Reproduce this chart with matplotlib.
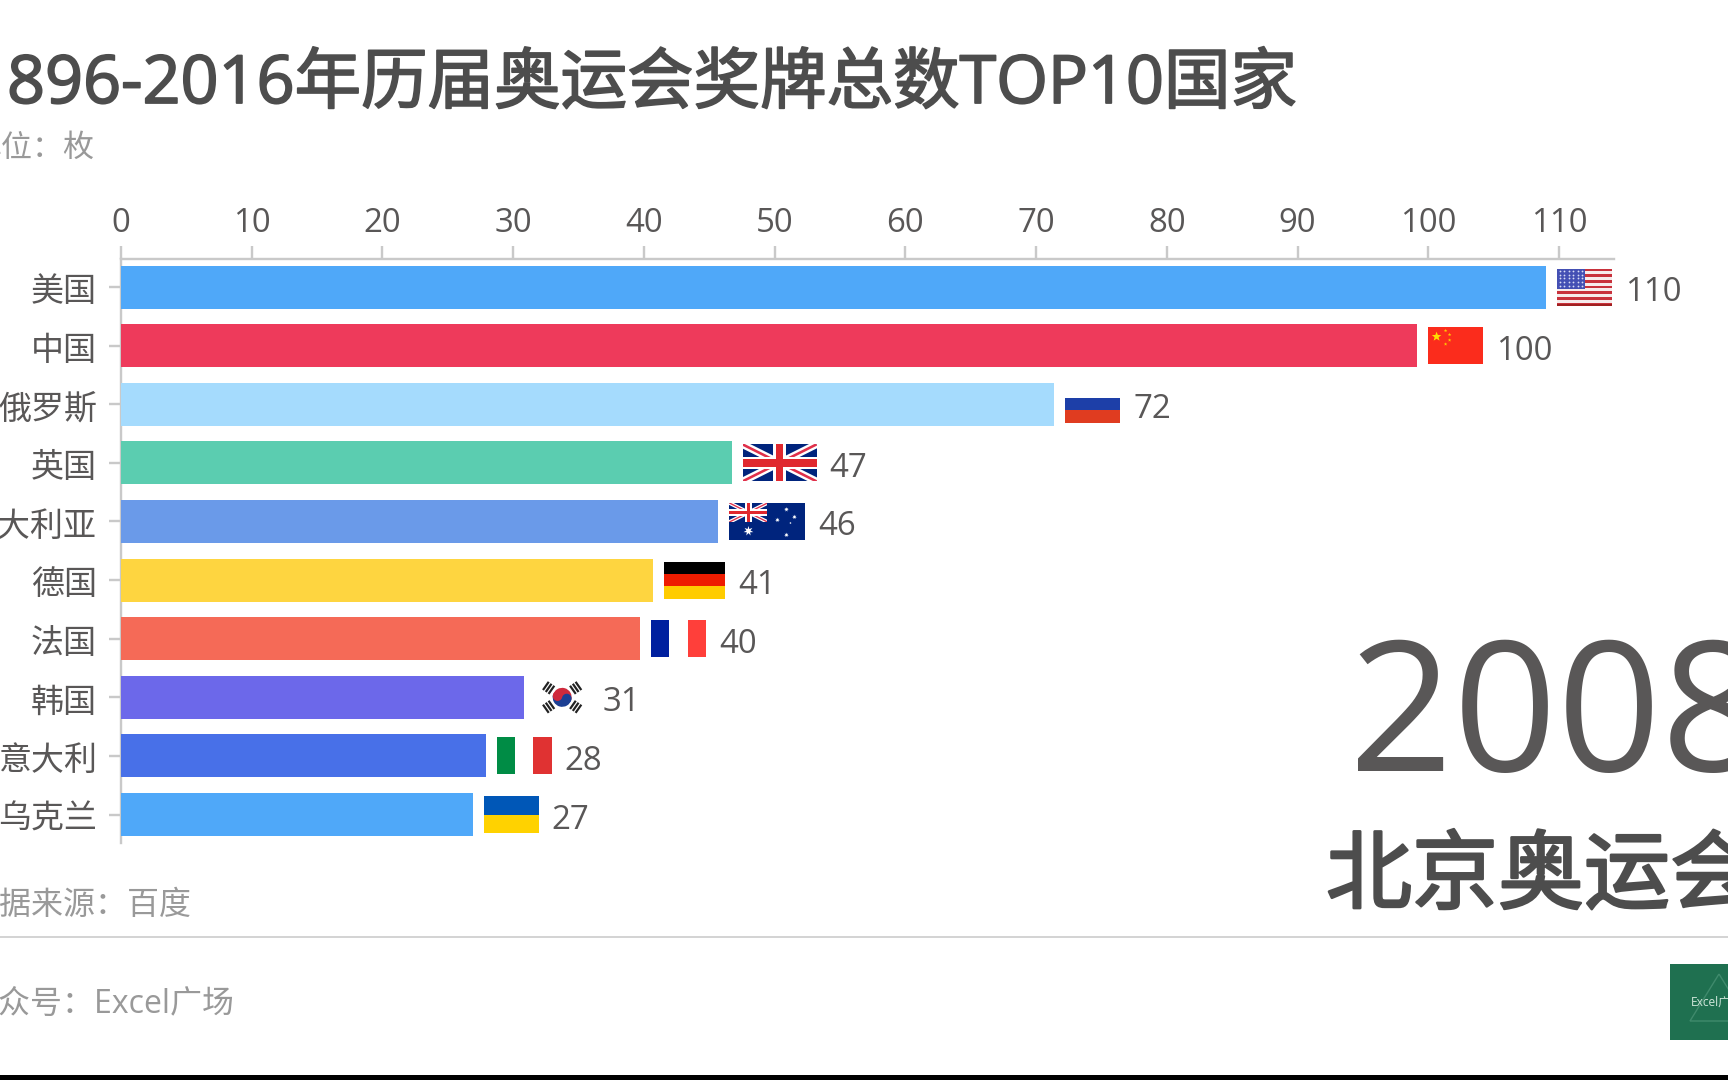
import matplotlib
matplotlib.use("Agg")
import matplotlib.pyplot as plt
import matplotlib.patheffects as pe
from matplotlib.patches import Rectangle, Circle, Wedge, Polygon
import numpy as np

plt.rcParams['font.family'] = ['Open Sans', 'Noto Sans CJK SC', 'DejaVu Sans']

countries = ['美国', '中国', '俄罗斯', '英国', '澳大利亚', '德国', '法国', '韩国', '意大利', '乌克兰']
bar_values = [109.0, 99.1, 71.4, 46.7, 45.7, 40.7, 39.7, 30.8, 27.9, 26.9]
label_values = [110, 100, 72, 47, 46, 41, 40, 31, 28, 27]
bar_colors = ['#4fa8f9', '#ee3a5b', '#a5dbfd', '#5bcdb0', '#6a9ae9',
              '#fed540', '#f56a57', '#6c68ea', '#4870e8', '#4fa8f9']
flags = ['us', 'cn', 'ru', 'uk', 'au', 'de', 'fr', 'kr', 'it', 'ua']
x_ticks = list(range(0, 111, 10))
title = '1896-2016年历届奥运会奖牌总数TOP10国家'
subtitle = '单位\uff1a枚'
source = '数据来源\uff1a百度'
account = '公众号\uff1aExcel广场'
year = '2008'
event = '北京奥运会'

W, H = 1728, 1080
DPI = 100
def pt(px):
    return px * 72 / DPI

fig = plt.figure(figsize=(W / DPI, H / DPI), dpi=DPI, facecolor='white')
ax = fig.add_axes([121 / W, 1 - 843 / H, (1614 - 121) / W, (843 - 259) / H])
ax.set_xlim(0, 114.2)
ax.set_ylim(9.485, -0.478)
ax.barh(range(len(bar_values)), bar_values, height=0.734, color=bar_colors, zorder=3)
ax.patch.set_alpha(0)
AX = '#c9c9c9'
TXT = '#595757'
for s in ['right', 'bottom']:
    ax.spines[s].set_visible(False)
for s in ['left', 'top']:
    ax.spines[s].set_color(AX)
    ax.spines[s].set_linewidth(pt(2.4))
ax.xaxis.tick_top()
ax.set_xticks(x_ticks)
ax.set_yticks(range(len(countries)))
ax.set_yticklabels([])
ax.tick_params(axis='x', length=pt(13), width=pt(2.4), color=AX, labelcolor=TXT,
               labelsize=pt(33), pad=pt(6))
ax.tick_params(axis='y', length=pt(12), width=pt(2.4), color=AX)

ov = fig.add_axes([0, 0, 1, 1], zorder=5)
ov.set_xlim(0, W)
ov.set_ylim(H, 0)
ov.axis('off')
ov.patch.set_alpha(0)

def clip(artist, box):
    artist.set_clip_path(box)

def rect(x, y, w, h, c, z=6):
    return ov.add_patch(Rectangle((x, y), w, h, fc=c, ec='none', zorder=z))

def stripe_h(x, y, w, h, cols):
    n = len(cols)
    for k, c in enumerate(cols):
        rect(x, y + k * h / n, w, h / n + 0.3, c)

def star(cx, cy, r, c='white', z=8, n=5):
    pts = []
    for k in range(2 * n):
        a = -np.pi / 2 + k * np.pi / n
        rr = r if k % 2 == 0 else r * 0.42
        pts.append((cx + rr * np.cos(a), cy + rr * np.sin(a)))
    ov.add_patch(Polygon(pts, fc=c, ec='none', zorder=z))

def union(x, y, w, h):
    box = rect(x, y, w, h, '#00247d', 7)
    for (a, b) in [((x, y), (x + w, y + h)), ((x, y + h), (x + w, y))]:
        l1, = ov.plot([a[0], b[0]], [a[1], b[1]], color='white', lw=pt(h * 0.2), zorder=8, solid_capstyle='butt')
        l2, = ov.plot([a[0], b[0]], [a[1], b[1]], color='#e0304a', lw=pt(h * 0.07), zorder=9, solid_capstyle='butt')
        clip(l1, box)
        clip(l2, box)
    rect(x + w / 2 - h * 0.17, y, h * 0.34, h, 'white', 10)
    rect(x, y + h * 0.33, w, h * 0.34, 'white', 10)
    rect(x + w / 2 - h * 0.1, y, h * 0.2, h, '#e0282e', 11)
    rect(x, y + h * 0.4, w, h * 0.2, '#e0282e', 11)

def draw_flag(kind, x, yc):
    h = 37
    y = yc - h / 2
    if kind == 'us':
        w = 55
        stripe_h(x, y, w, h, ['#c8323c' if k % 2 == 0 else '#f6ecec' for k in range(13)])
        rect(x, y + h - 2, w, 2, '#a02020', 7)
        rect(x, y, 27.5, 20, '#4450b4', 7)
        for r in range(5):
            for c in range(6):
                ov.plot(x + 2.5 + c * 4.5, y + 2.5 + r * 3.7, 'o', ms=1.3, color='#d8dcf5', mew=0, zorder=8)
    elif kind == 'cn':
        w = 55
        rect(x, y, w, h, '#fb2c1c')
        star(x + 9, y + 9.5, 5, '#ffdd00')
        for dx, dy in [(18, 3.5), (22, 7.5), (22, 13), (18, 17)]:
            star(x + dx, y + dy, 1.8, '#ffc800')
    elif kind == 'ru':
        w = 55
        stripe_h(x, y, w, h, ['white', '#1d3fa8', '#e03c20'])
    elif kind == 'uk':
        w = 74
        union(x, y, w, h)
    elif kind == 'au':
        w = 76
        rect(x, y, w, h, '#00247d')
        union(x, y, 38, 19)
        star(x + 19, y + 28, 5, 'white', 12, 7)
        for dx, dy, r in [(57, 6.5, 2.4), (48, 17, 2.4), (65, 14, 2.4), (57, 32, 2.4), (61, 20, 1.2)]:
            star(x + dx, y + dy, r, 'white', 12, 7)
    elif kind == 'de':
        w = 61
        stripe_h(x, y, w, h, ['#000000', '#ee1c00', '#ffcc00'])
    elif kind == 'fr':
        w = 55
        rect(x, y, w / 3, h, '#00209f')
        rect(x + 2 * w / 3, y, w / 3, h, '#ff3f3a')
    elif kind == 'it':
        w = 55
        rect(x, y, w / 3, h, '#008c45')
        rect(x + 2 * w / 3, y, w / 3, h, '#e03232')
    elif kind == 'ua':
        w = 55
        stripe_h(x, y, w, h, ['#0057b7', '#ffd200'])
    elif kind == 'kr':
        w = 55
        cx, cy = x + w / 2, yc
        ov.add_patch(Wedge((cx, cy), 9.5, 195, 375, fc='#cf2a3c', ec='none', zorder=7))
        ov.add_patch(Wedge((cx, cy), 9.5, 15, 195, fc='#1c3f94', ec='none', zorder=7))
        ov.add_patch(Circle((cx - 4.6, cy - 1.2), 4.8, fc='#cf2a3c', ec='none', zorder=8))
        ov.add_patch(Circle((cx + 4.6, cy + 1.2), 4.8, fc='#1c3f94', ec='none', zorder=8))
        for ang in [35, 145, 215, 325]:
            a = np.deg2rad(ang)
            tx, ty = cx + 16.5 * np.cos(a), cy - 16.5 * np.sin(a)
            for off in [-3.4, 0, 3.4]:
                ox, oy = off * np.cos(a), -off * np.sin(a)
                px, py = -np.sin(a) * 5, -np.cos(a) * 5
                ov.plot([tx + ox - px, tx + ox + px], [ty + oy - py, ty + oy + py],
                        color='#222222', lw=pt(2.2), zorder=8, solid_capstyle='butt')
    return w

fig.canvas.draw()
for i, (v, lab, fk, name) in enumerate(zip(bar_values, label_values, flags, countries)):
    dx, dy = ax.transData.transform((v, i))
    px, py = dx, H - dy
    w = draw_flag(fk, px + 11, py)
    ov.text(px + 11 + w + 13, py + 14, str(lab), fontsize=pt(33), color=TXT, ha='left', va='baseline', zorder=12)
    ov.text(97, py + 14, name, fontsize=pt(33), color=TXT, ha='right', va='baseline', zorder=12)

def heavy(px, col):
    return [pe.withStroke(linewidth=pt(px), foreground=col)]

ov.text(-31, 103, title, fontsize=pt(66.5), color='#4d4d4d', ha='left', va='baseline',
        path_effects=heavy(1.8, '#4d4d4d'))
ov.text(-30, 157, subtitle, fontsize=pt(31), color='#999999', ha='left', va='baseline')
ov.text(-32, 914, source, fontsize=pt(32), color='#999999', ha='left', va='baseline')
ov.text(-34, 1013, account, fontsize=pt(32), color='#999999', ha='left', va='baseline')
ov.plot([0, W], [937, 937], color='#d4d4d4', lw=pt(2))
ov.text(1349, 771, year, fontsize=pt(182), color=TXT, ha='left', va='baseline')
ov.text(1326, 902, event, fontsize=pt(86), color='#4d4d4d', ha='left', va='baseline',
        path_effects=heavy(2.5, '#4d4d4d'))

rect(1670, 964, 58, 76, '#1f7050')
ov.add_patch(Polygon([(1719, 974), (1690, 1021), (1748, 1021)], fc='none', ec='#3f8a6c', lw=1, zorder=7))
ov.text(1691, 1006, 'Excel广', fontsize=pt(12), color='#cfe6da', ha='left', va='baseline', zorder=8)
rect(0, 1075, W, 5, '#000000')

fig.savefig('out.png', dpi=DPI)
